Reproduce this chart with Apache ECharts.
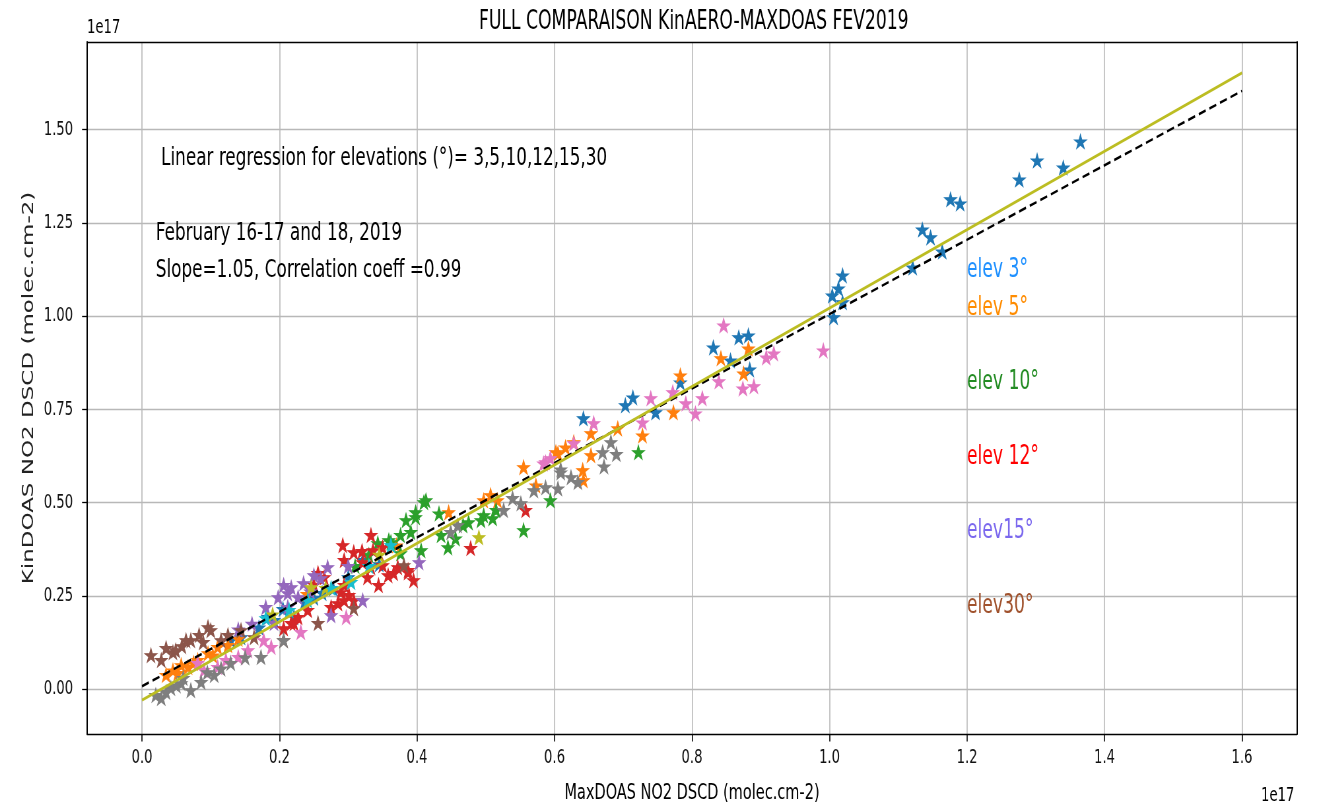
<!DOCTYPE html>
<html>
<head>
<meta charset="utf-8">
<script src="https://cdn.jsdelivr.net/npm/echarts@6.0.0/dist/echarts.min.js"></script>
<style>
  html, body { margin: 0; padding: 0; background: #fff; overflow: hidden; width: 1317px; height: 809px; }
  /* the figure is laid out wide and squeezed horizontally, giving its narrow lettering */
  #chart { width: 1995px; height: 809px; transform: scaleX(0.66015); transform-origin: 0 0; }
</style>
</head>
<body>
<div id="chart"></div>
<script>
// NO2 slant columns, units of 1e17 molec.cm-2: [MaxDOAS, KinDOAS]
const starsBlue = [[1.365,1.468],[1.340,1.398],[1.302,1.417],[1.276,1.366],[1.190,1.302],[1.176,1.313],[1.164,1.173],[1.147,1.211],[1.135,1.232],[1.121,1.130],[1.019,1.109],[1.013,1.074],[1.004,1.055],[1.019,1.037],[1.006,0.997],[0.882,0.948],[0.868,0.943],[0.831,0.916],[0.856,0.881],[0.884,0.857],[0.783,0.822],[0.714,0.782],[0.703,0.761],[0.747,0.742],[0.642,0.726],[0.321,0.346],[0.221,0.193],[0.192,0.185],[0.183,0.193],[0.144,0.139],[0.129,0.131],[0.170,0.165],[0.250,0.245],[0.300,0.300],[0.262,0.258],[0.236,0.232],[0.345,0.335],[0.205,0.215],[0.278,0.270]];
const starsOrange = [[0.882,0.913],[0.842,0.887],[0.875,0.846],[0.783,0.841],[0.773,0.742],[0.728,0.680],[0.692,0.699],[0.653,0.686],[0.653,0.627],[0.628,0.662],[0.616,0.648],[0.602,0.635],[0.641,0.587],[0.642,0.560],[0.605,0.632],[0.555,0.595],[0.573,0.546],[0.507,0.520],[0.517,0.506],[0.497,0.506],[0.446,0.474],[0.052,0.043],[0.067,0.059],[0.081,0.078],[0.096,0.096],[0.110,0.113],[0.125,0.118],[0.057,0.064],[0.035,0.038],[0.045,0.050],[0.075,0.070],[0.140,0.135],[0.240,0.255],[0.370,0.385],[0.103,0.090]];
const starsGreen = [[0.722,0.635],[0.594,0.506],[0.555,0.426],[0.497,0.466],[0.510,0.458],[0.493,0.453],[0.515,0.480],[0.413,0.506],[0.432,0.471],[0.384,0.453],[0.398,0.461],[0.391,0.421],[0.376,0.413],[0.435,0.413],[0.445,0.380],[0.456,0.404],[0.475,0.447],[0.467,0.439],[0.406,0.372],[0.359,0.399],[0.398,0.474],[0.410,0.501],[0.362,0.394],[0.343,0.391],[0.376,0.364],[0.330,0.360],[0.310,0.330]];
const starsRed = [[0.558,0.480],[0.478,0.378],[0.350,0.380],[0.387,0.319],[0.395,0.292],[0.366,0.311],[0.333,0.413],[0.292,0.386],[0.308,0.367],[0.336,0.372],[0.294,0.346],[0.321,0.340],[0.333,0.327],[0.350,0.332],[0.358,0.305],[0.372,0.327],[0.387,0.313],[0.344,0.279],[0.328,0.300],[0.256,0.311],[0.294,0.279],[0.289,0.260],[0.301,0.252],[0.294,0.238],[0.285,0.230],[0.275,0.220],[0.308,0.238],[0.241,0.212],[0.227,0.193],[0.217,0.177],[0.206,0.163],[0.221,0.177],[0.320,0.370],[0.265,0.300],[0.250,0.280]];
const starsPurple = [[0.403,0.340],[0.270,0.327],[0.250,0.305],[0.260,0.297],[0.235,0.284],[0.217,0.273],[0.198,0.246],[0.212,0.257],[0.227,0.246],[0.180,0.220],[0.206,0.279],[0.275,0.198],[0.321,0.238],[0.212,0.220],[0.192,0.177],[0.245,0.262],[0.300,0.330],[0.160,0.175],[0.140,0.160]];
const starsBrown = [[0.381,0.332],[0.308,0.217],[0.256,0.177],[0.206,0.131],[0.144,0.158],[0.163,0.139],[0.100,0.158],[0.096,0.166],[0.071,0.131],[0.045,0.099],[0.089,0.126],[0.013,0.091],[0.028,0.078],[0.049,0.104],[0.064,0.131],[0.083,0.145],[0.115,0.131],[0.035,0.110],[0.125,0.145],[0.058,0.115]];
const starsPink = [[0.991,0.908],[0.846,0.975],[0.908,0.889],[0.919,0.900],[0.839,0.825],[0.874,0.806],[0.890,0.812],[0.791,0.766],[0.805,0.739],[0.815,0.780],[0.657,0.713],[0.740,0.780],[0.772,0.796],[0.728,0.715],[0.587,0.608],[0.584,0.605],[0.594,0.619],[0.628,0.659],[0.297,0.193],[0.231,0.153],[0.188,0.113],[0.140,0.086],[0.154,0.104],[0.177,0.131],[0.110,0.059],[0.090,0.051],[0.081,0.070],[0.122,0.078]];
const starsGray = [[0.670,0.635],[0.682,0.662],[0.690,0.630],[0.672,0.597],[0.609,0.589],[0.624,0.568],[0.634,0.555],[0.587,0.541],[0.605,0.538],[0.609,0.581],[0.570,0.533],[0.539,0.512],[0.551,0.498],[0.526,0.480],[0.459,0.439],[0.449,0.421],[0.028,-0.024],[0.042,0.003],[0.057,0.016],[0.071,-0.003],[0.086,0.019],[0.105,0.038],[0.129,0.070],[0.173,0.086],[0.206,0.131],[0.020,-0.016],[0.035,-0.008],[0.050,0.010],[0.060,0.030],[0.095,0.045],[0.150,0.085],[0.115,0.055]];
const starsOlive = [[0.490,0.407],[0.246,0.273],[0.267,0.271],[0.190,0.200],[0.345,0.360]];
const starsCyan = [[0.362,0.386],[0.304,0.287],[0.275,0.271],[0.241,0.238],[0.214,0.212],[0.180,0.190],[0.330,0.330]];

// one-to-one reference and fitted regression line
const refLine = [[0.0, 0.008], [1.6, 1.604]];
const fitLine = [[0.0, -0.029], [1.6, 1.652]];

const xTicks = [0.0, 0.2, 0.4, 0.6, 0.8, 1.0, 1.2, 1.4, 1.6];
const yTicks = [0.0, 0.25, 0.5, 0.75, 1.0, 1.25, 1.5];

const elevLabels = ['elev 3°', 'elev 5°', 'elev 10°', 'elev 12°', 'elev15°', 'elev30°'];
const elevLevels = [1.1, 1.0, 0.8, 0.6, 0.4, 0.2];
const elevColors = ['#1e90ff', '#ff8c00', '#228b22', '#ff0000', '#7b68ee', '#a0522d'];

const FONT = 'DejaVu Sans';
const STAR = 'path://M100,0L122.45,69.1L195.1,69.1L136.3,111.8L158.8,180.9L100,138.2L41.2,180.9L63.7,111.8L4.9,69.1L77.55,69.1Z';

const starSets = [
  [starsBlue, '#1f77b4'], [starsOrange, '#ff7f0e'], [starsGreen, '#2ca02c'],
  [starsRed, '#d62728'], [starsPurple, '#9467bd'], [starsBrown, '#8c564b'],
  [starsPink, '#e377c2'], [starsGray, '#7f7f7f'], [starsOlive, '#bcbd22'],
  [starsCyan, '#17becf']
];

const chart = echarts.init(document.getElementById('chart'));

const XMIN = -0.08, XMAX = 1.68, YMIN = -0.12, YMAX = 1.735;

const frameAxis = (pos, w) => ({
  type: 'value', position: pos, min: pos === 'top' || pos === 'bottom' ? XMIN : YMIN,
  max: pos === 'top' || pos === 'bottom' ? XMAX : YMAX,
  axisLine: { show: true, onZero: false, lineStyle: { color: '#000', width: w } },
  axisTick: { show: false }, axisLabel: { show: false }, splitLine: { show: false }
});

const option = {
  animation: false,
  backgroundColor: '#fff',
  title: {
    text: 'FULL COMPARAISON KinAERO-MAXDOAS FEV2019',
    left: 1046, top: 4, textAlign: 'center',
    textStyle: { fontFamily: FONT, fontSize: 26, fontWeight: 'normal', color: '#000' }
  },
  grid: { left: 131.8, right: 30.3, top: 42, bottom: 74 },
  xAxis: [{
    type: 'value', min: XMIN, max: XMAX, position: 'bottom',
    name: 'MaxDOAS NO2 DSCD (molec.cm-2)', nameLocation: 'middle', nameGap: 48,
    nameTextStyle: { fontFamily: FONT, fontSize: 22, color: '#000' },
    axisLine: { show: true, onZero: false, lineStyle: { color: '#000', width: 1.4 } },
    axisTick: { show: true, customValues: xTicks, length: 7.5, lineStyle: { color: '#000', width: 1.6 } },
    axisLabel: { customValues: xTicks, margin: 14, fontFamily: FONT, fontSize: 20, color: '#111',
      formatter: v => v.toFixed(1) },
    splitLine: { show: true, lineStyle: { color: '#b8b8b8', width: 1.6 } }
  }, frameAxis('top', 1.4)],
  yAxis: [{
    type: 'value', min: YMIN, max: YMAX, position: 'left',
    name: 'KinDOAS NO2 DSCD (molec.cm-2)', nameLocation: 'middle', nameGap: 70, nameRotate: 90,
    nameTextStyle: { fontFamily: FONT, fontSize: 23, color: '#222' },
    axisLine: { show: true, onZero: false, lineStyle: { color: '#000', width: 2 } },
    axisTick: { show: true, customValues: yTicks, length: 7.5, lineStyle: { color: '#000', width: 1.3 } },
    axisLabel: { customValues: yTicks, margin: 21, fontFamily: FONT, fontSize: 20, color: '#111',
      formatter: v => v.toFixed(2) },
    splitLine: { show: true, lineStyle: { color: '#b8b8b8', width: 1.3 } }
  }, frameAxis('right', 2)],
  series: starSets.map(([pts, color], i) => ({
    type: 'scatter', name: 'set' + (i + 1), data: pts,
    symbol: STAR, symbolSize: [18, 13.5],
    itemStyle: { color: color, borderColor: color, borderWidth: 1.2, opacity: 1 }, silent: true
  })).concat([
    { type: 'line', name: 'one-to-one', data: refLine, showSymbol: false, symbol: 'none',
      lineStyle: { color: '#000', width: 2.5, type: [11, 6] }, silent: true, z: 3 },
    { type: 'line', name: 'regression', data: fitLine, showSymbol: false, symbol: 'none',
      lineStyle: { color: '#bcbd22', width: 3 }, silent: true, z: 3 }
  ])
};

chart.setOption(option);

// annotations placed in data coordinates, text baseline at the given level
const px = (x, y) => chart.convertToPixel({ gridIndex: 0 }, [x, y]);
const textAt = (x, y, text, size, color) => {
  const p = px(x, y);
  return { type: 'text', x: p[0], y: p[1] - 0.32 * size, z: 10,
    style: { text: text, fontFamily: FONT, fontSize: size, fill: color, align: 'left', verticalAlign: 'middle' } };
};
const notes = [
  textAt(0.02, 1.4, ' Linear regression for elevations (°)= 3,5,10,12,15,30', 25.5, '#000'),
  textAt(0.02, 1.2, 'February 16-17 and 18, 2019', 25.5, '#000'),
  textAt(0.02, 1.1, 'Slope=1.05, Correlation coeff =0.99', 25.5, '#000')
].concat(elevLabels.map((t, i) => textAt(1.2, elevLevels[i], t, 26, elevColors[i])));

// axis scale factors
const tl = px(XMIN, YMAX), br = px(XMAX, YMIN);
notes.push({ type: 'text', x: tl[0], y: tl[1] - 4, z: 10,
  style: { text: '1e17', fontFamily: FONT, fontSize: 20, fill: '#000', align: 'left', verticalAlign: 'bottom' } });
notes.push({ type: 'text', x: br[0] - 4, y: br[1] + 72, z: 10,
  style: { text: '1e17', fontFamily: FONT, fontSize: 20, fill: '#000', align: 'right', verticalAlign: 'bottom' } });

chart.setOption({ graphic: notes });
</script>
</body>
</html>
